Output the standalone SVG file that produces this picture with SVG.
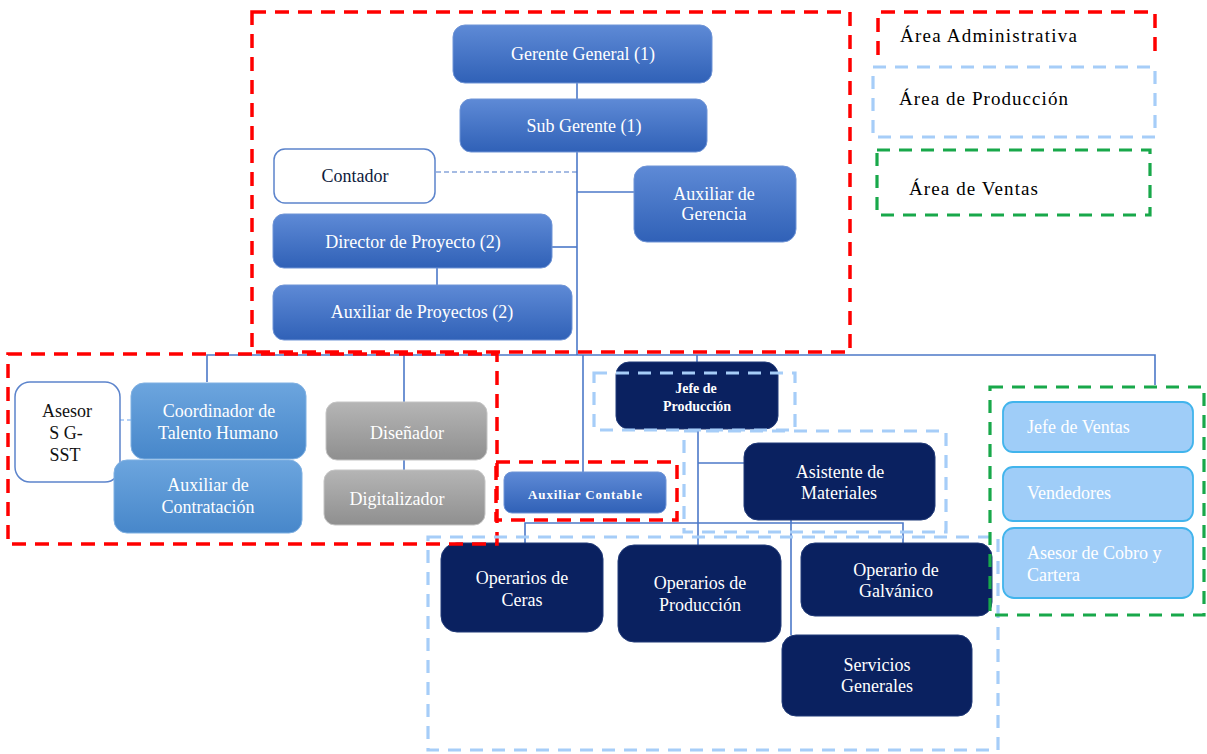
<svg xmlns="http://www.w3.org/2000/svg" width="1207" height="754" viewBox="0 0 1207 754">
<defs>
<linearGradient id="gAdm" x1="0" y1="0" x2="0" y2="1"><stop offset="0" stop-color="#5e8ad6"/><stop offset="1" stop-color="#3061b7"/></linearGradient>
<linearGradient id="gTal" x1="0" y1="0" x2="0" y2="1"><stop offset="0" stop-color="#6ca5de"/><stop offset="1" stop-color="#4787ca"/></linearGradient>
<linearGradient id="gGray" x1="0" y1="0" x2="0" y2="1"><stop offset="0" stop-color="#b5b5b5"/><stop offset="1" stop-color="#8f8f8f"/></linearGradient>
<style>
.adm{fill:url(#gAdm);stroke:#6f94d6;stroke-width:1}
.tal{fill:url(#gTal);stroke:#7fb0e2;stroke-width:1}
.gray{fill:url(#gGray);stroke:#c4c4c4;stroke-width:1}
.navy{fill:#0a2160;stroke:#213a78;stroke-width:1}
.ven{fill:#9fcdf8;stroke:#41b4ec;stroke-width:1.8}
.white{fill:#ffffff;stroke:#5c84cc;stroke-width:1.5}
text{font-family:"Liberation Serif","Times New Roman",serif;font-size:18px}
.t{fill:#ffffff;text-anchor:middle}
.tl{fill:#ffffff;text-anchor:start}
.td{fill:#111111;text-anchor:middle}
.tb{fill:#ffffff;text-anchor:middle;font-weight:bold;font-size:14px}
.conn line,.conn polyline{stroke:#4c78c8;stroke-width:1.6;fill:none}
.red{fill:none;stroke:#ff0000;stroke-width:3.5;stroke-dasharray:14 9}
.blu{fill:none;stroke:#a6cdf8;stroke-width:3.2;stroke-dasharray:13 9}
.grn{fill:none;stroke:#18a84a;stroke-width:3.2;stroke-dasharray:13 9}
.leg{fill:#000000;font-size:19px}
</style>
</defs>
<rect width="1207" height="754" fill="#ffffff"/>

<g id="connectors" class="conn">
<line x1="577" y1="83" x2="577" y2="355"/>
<line x1="436" y1="172" x2="577" y2="172" style="stroke-dasharray:5 3;stroke-width:1.2"/>
<line x1="577" y1="192" x2="634" y2="192"/>
<line x1="552" y1="247" x2="577" y2="247"/>
<line x1="437" y1="268" x2="437" y2="285"/>
<polyline points="207,382 207,355 1155,355 1155,385"/>
<line x1="404" y1="355" x2="404" y2="470"/>
<line x1="583" y1="355" x2="583" y2="472"/>
<line x1="697" y1="355" x2="697" y2="362"/>
<line x1="698" y1="429" x2="698" y2="545"/>
<line x1="698" y1="463" x2="744" y2="463"/>
<polyline points="525,543 525,523 903,523 903,543"/>
<line x1="791" y1="520" x2="791" y2="635"/>
<line x1="120" y1="420" x2="131" y2="420" style="stroke:#9dc3f5;stroke-dasharray:4 3"/>
</g>

<g id="gerente-general"><rect class="adm" x="453" y="25" width="259" height="58" rx="12"/><text class="t" x="583" y="54" dy="0.35em">Gerente General (1)</text></g>
<g id="sub-gerente"><rect class="adm" x="460" y="99" width="247" height="53" rx="11"/><text class="t" x="584" y="126" dy="0.35em">Sub Gerente (1)</text></g>
<g id="contador"><rect class="white" x="274" y="149" width="161" height="54" rx="11"/><text class="td" x="355" y="176" dy="0.35em" style="fill:#0e1a3c">Contador</text></g>
<g id="auxiliar-gerencia"><rect class="adm" x="634" y="166" width="162" height="76" rx="13"/><text class="t" x="714" y="194" dy="0.35em">Auxiliar de</text><text class="t" x="714" y="214" dy="0.35em">Gerencia</text></g>
<g id="director-proyecto"><rect class="adm" x="273" y="214" width="279" height="54" rx="11"/><text class="t" x="413" y="242" dy="0.35em">Director de Proyecto (2)</text></g>
<g id="auxiliar-proyectos"><rect class="adm" x="273" y="285" width="299" height="55" rx="11"/><text class="t" x="422" y="312" dy="0.35em">Auxiliar de Proyectos (2)</text></g>

<g id="asesor-sg-sst"><rect class="white" x="15" y="382" width="105" height="100" rx="15"/><text class="td" x="67" y="411" dy="0.35em">Asesor</text><text class="td" x="66" y="433" dy="0.35em">S G-</text><text class="td" x="65" y="455" dy="0.35em">SST</text></g>
<g id="coordinador-talento"><rect class="tal" x="131" y="383" width="175" height="76" rx="13"/><text class="t" x="219" y="411" dy="0.35em">Coordinador de</text><text class="t" x="218" y="433" dy="0.35em">Talento Humano</text></g>
<g id="auxiliar-contratacion"><rect class="tal" x="114" y="460" width="188" height="73" rx="13"/><text class="t" x="208" y="485" dy="0.35em">Auxiliar de</text><text class="t" x="208" y="507" dy="0.35em">Contratación</text></g>
<g id="disenador"><rect class="gray" x="326" y="402" width="161" height="58" rx="11"/><text class="t" x="407" y="433" dy="0.35em">Diseñador</text></g>
<g id="digitalizador"><rect class="gray" x="324" y="470" width="161" height="55" rx="11"/><text class="t" x="397" y="499" dy="0.35em">Digitalizador</text></g>

<g id="jefe-produccion"><rect class="navy" x="616" y="362" width="162" height="67" rx="13"/><text class="tb" x="696" y="388" dy="0.35em">Jefe de</text><text class="tb" x="697" y="406" dy="0.35em">Producción</text></g>
<g id="auxiliar-contable"><rect class="adm" x="504" y="472" width="162" height="41" rx="8"/><text class="tb" x="585" y="494" dy="0.35em" style="font-size:13px" textLength="114">Auxiliar Contable</text></g>
<g id="asistente-materiales"><rect class="navy" x="744" y="443" width="191" height="77" rx="14"/><text class="t" x="840" y="472" dy="0.35em">Asistente de</text><text class="t" x="839" y="493" dy="0.35em">Materiales</text></g>
<g id="operarios-ceras"><rect class="navy" x="441" y="543" width="162" height="89" rx="16"/><text class="t" x="522" y="578" dy="0.35em">Operarios de</text><text class="t" x="522" y="600" dy="0.35em">Ceras</text></g>
<g id="operarios-produccion"><rect class="navy" x="618" y="545" width="163" height="97" rx="16"/><text class="t" x="700" y="583" dy="0.35em">Operarios de</text><text class="t" x="700" y="605" dy="0.35em">Producción</text></g>
<g id="operario-galvanico"><rect class="navy" x="801" y="543" width="191" height="73" rx="14"/><text class="t" x="896" y="570" dy="0.35em">Operario de</text><text class="t" x="896" y="591" dy="0.35em">Galvánico</text></g>
<g id="servicios-generales"><rect class="navy" x="782" y="635" width="190" height="81" rx="14"/><text class="t" x="877" y="665" dy="0.35em">Servicios</text><text class="t" x="877" y="686" dy="0.35em">Generales</text></g>

<g id="jefe-ventas"><rect class="ven" x="1003" y="402" width="190" height="50" rx="10"/><text class="tl" x="1027" y="427" dy="0.35em">Jefe de Ventas</text></g>
<g id="vendedores"><rect class="ven" x="1003" y="467" width="190" height="54" rx="10"/><text class="tl" x="1027" y="493" dy="0.35em">Vendedores</text></g>
<g id="asesor-cobro"><rect class="ven" x="1003" y="528" width="190" height="70" rx="11"/><text class="tl" x="1027" y="553" dy="0.35em">Asesor de Cobro y</text><text class="tl" x="1027" y="575" dy="0.35em">Cartera</text></g>

<g id="areas">
<rect class="red" x="252" y="12" width="598" height="340"/>
<rect class="red" x="8" y="354" width="489" height="190"/>
<rect class="red" x="496" y="462" width="181" height="58"/>
<rect class="blu" x="594" y="373" width="201" height="57"/>
<rect class="blu" x="684" y="431" width="262" height="101"/>
<rect class="blu" x="428" y="537" width="570" height="213"/>
<rect class="grn" x="990" y="387" width="214" height="228"/>
</g>

<g id="legend">
<polyline class="red" points="878,55 878,12 1155,12 1155,53"/>
<text class="leg" x="900" y="35" dy="0.35em" textLength="177">Área Administrativa</text>
<rect class="blu" x="873" y="67" width="282" height="70"/>
<text class="leg" x="899" y="98" dy="0.35em" textLength="169">Área de Producción</text>
<rect class="grn" x="877" y="150" width="273" height="65"/>
<text class="leg" x="909" y="188" dy="0.35em" textLength="129">Área de Ventas</text>
</g>
</svg>
